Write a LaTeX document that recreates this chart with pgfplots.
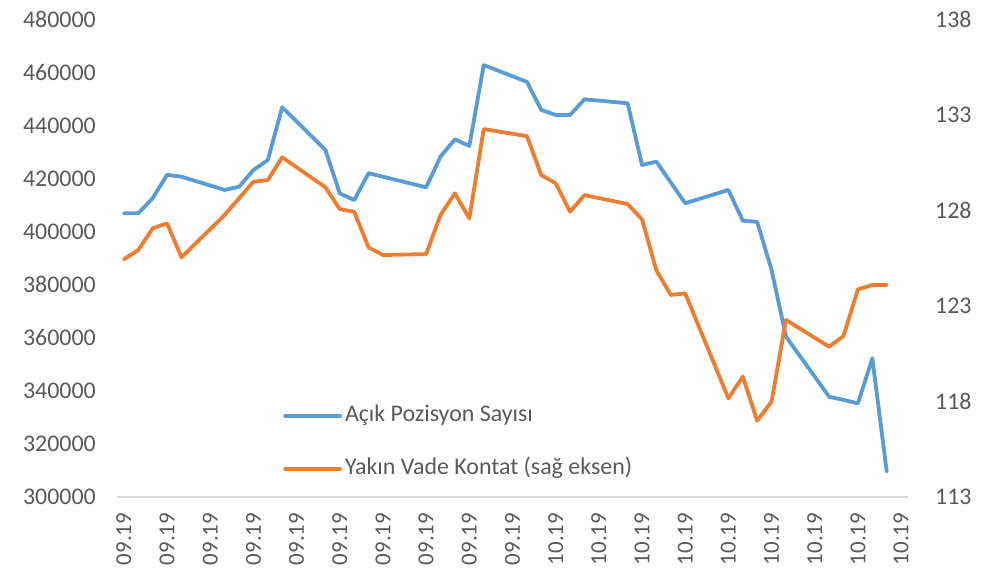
\documentclass[border=0pt]{standalone}
\usepackage{pgfplots}
\pgfplotsset{compat=1.18}
\usepackage{pgfplotstable}
\usepackage{fontspec}
\setmainfont{Carlito}
\definecolor{cblue}{HTML}{5B9BD5}
\definecolor{corange}{HTML}{ED7D31}
\definecolor{ctext}{HTML}{595959}
\definecolor{caxis}{HTML}{D9D9D9}

\pgfplotstableread{
d v
0 406900
1 406900
2 412600
3 421400
4 420700
7 415700
8 416900
9 423200
10 427000
11 446900
14 430800
15 414400
16 411900
17 422000
18 420700
21 416700
22 428300
23 434800
24 432300
25 462800
28 456500
29 445900
30 444000
31 444000
32 449900
35 448400
36 425100
37 426400
38 418500
39 410700
42 415700
43 404100
44 403700
45 385500
46 360400
49 337700
50 336500
51 335200
52 352200
53 309500
}\bluedata

\pgfplotstableread{
d v
0 125.44
1 125.92
2 127.06
3 127.32
4 125.54
7 127.76
8 128.63
9 129.50
10 129.59
11 130.78
14 129.21
15 128.06
16 127.93
17 126.06
18 125.66
21 125.71
22 127.76
23 128.89
24 127.58
25 132.26
28 131.89
29 129.85
30 129.42
31 127.93
32 128.80
35 128.33
36 127.53
37 124.85
38 123.57
39 123.65
42 118.15
43 119.29
44 116.98
45 117.98
46 122.26
49 120.86
50 121.42
51 123.86
52 124.09
53 124.09
}\orangedata

\pgfplotsset{
  common/.style={
    at={(116.7bp,71.3bp)}, anchor=south west, scale only axis,
    width=791.6bp, height=477.2bp,
    xmin=-0.5, xmax=54.5, clip=false,
    major tick length=0pt,
    /pgf/number format/fixed,
    /pgf/number format/precision=0,
    /pgf/number format/assume math mode=true,
    /pgf/number format/1000 sep={},
    scaled y ticks=false,
    tick label style={font=\fontsize{24}{28}\selectfont, text=ctext, inner sep=0pt},
  },
  ser/.style={line width=3.8bp, line join=round, line cap=round},
}

\begin{document}
\begin{tikzpicture}
\useasboundingbox (0,0) rectangle (991bp,568bp);
\begin{axis}[common,
  ymin=300000, ymax=480000,
  ytick={300000,320000,...,480000},
  axis x line*=bottom, axis y line*=left,
  x axis line style={caxis, line width=2bp, -},
  y axis line style={draw=none},
  xtick={0,3,...,54},
  xticklabels={09.19,09.19,09.19,09.19,09.19,09.19,09.19,09.19,09.19,09.19,10.19,10.19,10.19,10.19,10.19,10.19,10.19,10.19,10.19},
  xticklabel style={rotate=90, anchor=east, font=\fontsize{23}{27}\selectfont},
  xticklabel shift=16bp,
  yticklabel style={anchor=east},
  yticklabel shift=20.7bp,
]
\addplot[ser, cblue] table[x=d, y=v] {\bluedata};
\end{axis}
\begin{axis}[common,
  ymin=113, ymax=138,
  ytick={113,118,...,138},
  axis y line*=right, axis x line=none,
  y axis line style={draw=none},
  yticklabel style={anchor=west},
  yticklabel shift=26.7bp,
  legend style={draw=none, fill=none, at={(0.2101,0.1136)}, anchor=west,
    font=\fontsize{24}{28}\selectfont, text=ctext, inner sep=0pt,
    row sep=27bp, column sep=1bp,
    nodes={inner sep=2bp, text height=17bp, text depth=5bp}},
  legend cell align=left,
  legend image code/.code={\draw[#1] (0bp,0bp) -- (55bp,0bp);},
]
\addlegendimage{ser, cblue}
\addlegendentry{Açık Pozisyon Sayısı}
\addplot[ser, corange] table[x=d, y=v] {\orangedata};
\addlegendentry{Yakın Vade Kontat (sağ eksen)}
\end{axis}
\end{tikzpicture}
\end{document}
